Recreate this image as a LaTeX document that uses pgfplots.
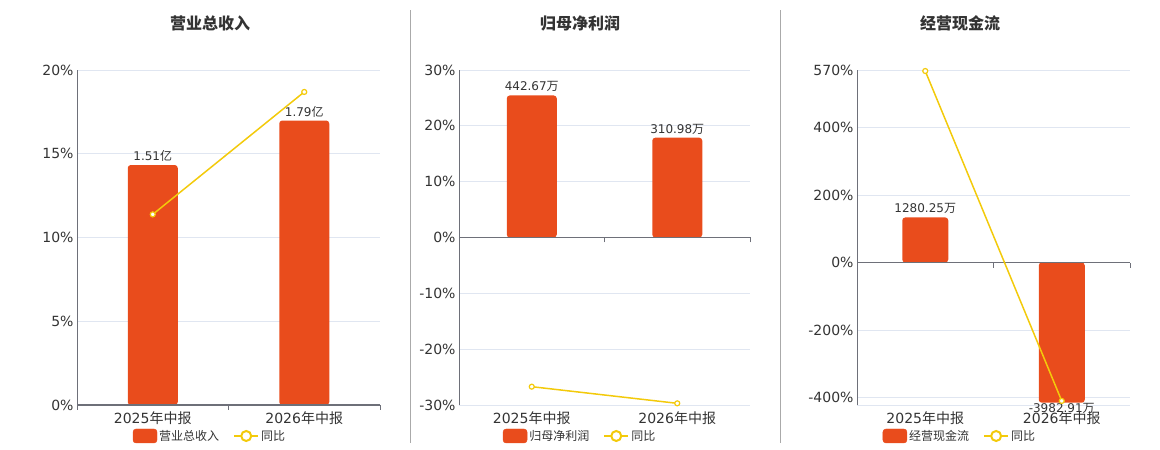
\documentclass[border=0pt]{standalone}
\usepackage{fontspec}
\setmainfont{DejaVu Sans}
\newfontfamily\cjk{Noto Sans CJK SC}
\usepackage{pgfplots}
\pgfplotsset{compat=1.18}
\definecolor{barc}{HTML}{E94C1C}
\definecolor{linec}{HTML}{F3CA0B}
\definecolor{gridc}{HTML}{E0E6F1}
\definecolor{axisc}{HTML}{6E7079}
\definecolor{txtc}{HTML}{333333}
\definecolor{sepc}{HTML}{AAAAAA}
\pgfplotsset{
  pctaxis/.style={scale only axis, anchor=south west, xmin=-0.5, xmax=1.5,
    axis y line*=left, axis x line*=bottom, x axis line style={draw=none},
    y axis line style={draw=axisc, line width=1pt},
    xtick={0,1}, xticklabels={2025{\cjk 年中报},2026{\cjk 年中报}},
    major tick style={draw=none}, ymajorgrids,
    major grid style={draw=gridc, line width=0.8pt},
    tick label style={font=\fontsize{14}{14}\selectfont, text=txtc},
    xticklabel style={yshift=-3pt}},
  baraxis/.style={scale only axis, anchor=south west, xmin=-0.5, xmax=1.5,
    axis y line=none, axis x line*=middle,
    x axis line style={draw=axisc, line width=1.8pt, -},
    every inner x axis line/.append style={line width=1.8pt, draw=axisc},
    xtick={-0.5,0.5,1.5}, xticklabels={}, tick align=outside,
    major tick length=5pt, x tick style={draw=axisc, line width=0.8pt},
    ytick=\empty, ybar, bar shift=0pt, axis on top, hide obscured x ticks=false,
    nodes near coords, point meta=explicit symbolic,
    every node near coord/.append style={font=\fontsize{12}{12}\selectfont, text=txtc}},
  lineaxis/.style={scale only axis, anchor=south west, xmin=-0.5, xmax=1.5,
    hide axis, clip=false,
    legend style={draw=none, fill=none, font=\fontsize{12}{12}\selectfont,
      text=txtc, legend columns=-1, anchor=center,
      /tikz/every even column/.append style={column sep=12pt}}},
  barleg/.style={legend image code/.code={\fill[barc, rounded corners=3pt] (0pt,-7pt) rectangle (24pt,7pt);}},
  lineleg/.style={legend image code/.code={\draw[linec, line width=2pt] (0pt,0pt) -- (24pt,0pt); \draw[linec, fill=white, line width=2pt] (12pt,0pt) circle (5pt);}},
  yoy/.style={linec, line width=1.5pt, mark=*, mark size=2.5pt,
    mark options={fill=white, draw=linec, line width=1.2pt}, lineleg},
}
\begin{document}
\begin{tikzpicture}
\useasboundingbox (0,0) rectangle (1160pt,450pt);
% separators
\draw[sepc, line width=1pt] (410pt,7pt) -- (410pt,440pt);
\draw[sepc, line width=1pt] (780pt,7pt) -- (780pt,440pt);
% titles
\node[font=\cjk\bfseries\fontsize{16}{16}\selectfont, text=txtc] at (210pt,427pt) {营业总收入};
\node[font=\cjk\bfseries\fontsize{16}{16}\selectfont, text=txtc] at (580pt,427pt) {归母净利润};
\node[font=\cjk\bfseries\fontsize{16}{16}\selectfont, text=txtc] at (960pt,427pt) {经营现金流};

% ===== Panel 1 =====
\begin{axis}[pctaxis, at={(77pt,45pt)}, width=303pt, height=335pt,
  ymin=0, ymax=20, ytick={0,5,10,15,20},
  yticklabels={0\%,5\%,10\%,15\%,20\%}]
\end{axis}
\begin{axis}[baraxis, at={(77pt,45pt)}, width=303pt, height=335pt,
  ymin=0, ymax=2.108, bar width=50pt]
\addplot[fill=barc, draw=none, rounded corners=3pt] coordinates
  {(0,1.51) [1.51{\cjk 亿}] (1,1.79) [1.79{\cjk 亿}]};
\end{axis}
\begin{axis}[lineaxis, at={(77pt,45pt)}, width=303pt, height=335pt,
  ymin=0, ymax=20, legend style={at={(0.439,-0.0925)}}]
\addlegendimage{barleg}
\addlegendentry{{\cjk 营业总收入}}
\addplot[yoy] coordinates {(0,11.38) (1,18.69)};
\addlegendentry{{\cjk 同比}}
\end{axis}

% ===== Panel 2 =====
\begin{axis}[pctaxis, at={(459pt,45pt)}, width=291pt, height=335pt,
  ymin=-30, ymax=30, ytick={-30,-20,-10,0,10,20,30},
  yticklabels={-30\%,-20\%,-10\%,0\%,10\%,20\%,30\%}]
\end{axis}
\begin{axis}[baraxis, at={(459pt,45pt)}, width=291pt, height=335pt,
  ymin=-522, ymax=522, bar width=50pt]
\addplot[fill=barc, draw=none, rounded corners=3pt] coordinates
  {(0,442.67) [442.67{\cjk 万}] (1,310.98) [310.98{\cjk 万}]};
\end{axis}
\begin{axis}[lineaxis, at={(459pt,45pt)}, width=291pt, height=335pt,
  ymin=-30, ymax=30, legend style={at={(0.416,-0.0925)}}]
\addlegendimage{barleg}
\addlegendentry{{\cjk 归母净利润}}
\addplot[yoy] coordinates {(0,-26.72) (1,-29.70)};
\addlegendentry{{\cjk 同比}}
\end{axis}

% ===== Panel 3 =====
\begin{axis}[pctaxis, at={(857pt,45pt)}, width=273pt, height=335pt,
  ymin=-422, ymax=570, ytick={-400,-200,0,200,400,570},
  yticklabels={-400\%,-200\%,0\%,200\%,400\%,570\%},
  extra y ticks={-422}, extra y tick labels={}]
\end{axis}
\begin{axis}[baraxis, at={(857pt,45pt)}, width=273pt, height=335pt,
  ymin=-4048, ymax=5469, bar width=46pt]
\addplot[fill=barc, draw=none, rounded corners=3pt] coordinates
  {(0,1280.25) [1280.25{\cjk 万}]};
\addplot[fill=barc, draw=none, rounded corners=3pt,
  every node near coord/.append style={anchor=north, yshift=3pt}] coordinates
  {(1,-3982.91) [-3982.91{\cjk 万}]};
\end{axis}
\begin{axis}[lineaxis, at={(857pt,45pt)}, width=273pt, height=335pt,
  ymin=-422, ymax=570, legend style={at={(0.377,-0.0925)}}]
\addlegendimage{barleg}
\addlegendentry{{\cjk 经营现金流}}
\addplot[yoy] coordinates {(0,567) (1,-410)};
\addlegendentry{{\cjk 同比}}
\end{axis}
\end{tikzpicture}
\end{document}
